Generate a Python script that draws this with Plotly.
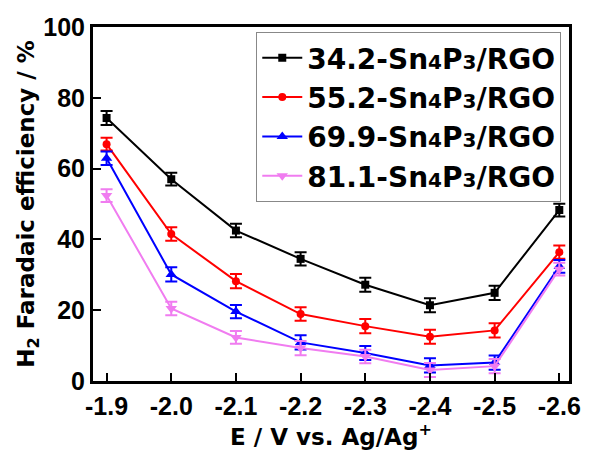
import plotly.graph_objects as go

potential = [-1.9, -2.0, -2.1, -2.2, -2.3, -2.4, -2.5, -2.6]
tick_labels = ["-1.9", "-2.0", "-2.1", "-2.2", "-2.3", "-2.4", "-2.5", "-2.6"]

names = ["34.2", "55.2", "69.9", "81.1"]
fe_342 = [74.3, 57.0, 42.5, 34.5, 27.2, 21.4, 24.9, 48.3]
fe_552 = [66.9, 41.5, 28.2, 18.9, 15.5, 12.5, 14.3, 36.4]
fe_699 = [62.9, 30.1, 19.6, 10.9, 7.9, 4.4, 5.2, 32.4]
fe_811 = [52.4, 20.5, 12.3, 9.3, 6.9, 3.1, 4.2, 31.6]
err_342 = [2.0, 1.8, 1.9, 1.9, 2.0, 2.0, 2.0, 1.8]
err_552 = [1.8, 1.9, 2.0, 1.9, 2.0, 2.0, 2.0, 1.9]
err_699 = [1.9, 2.0, 1.9, 2.0, 2.0, 2.0, 2.0, 1.8]
err_811 = [1.8, 1.9, 1.8, 2.0, 1.9, 2.0, 2.0, 1.8]

colors = ["#000000", "#FF0000", "#0000FF", "#F07CF0"]
symbols = ["square", "circle", "triangle-up", "triangle-down"]
msizes = [8, 8, 10, 10]

ARIAL = "Liberation Sans, Arial, sans-serif"
WIDE = "DejaVu Sans, Verdana, sans-serif"

fig = go.Figure()
for nm, ys, es, c, s, ms in zip(names, [fe_342, fe_552, fe_699, fe_811],
                                [err_342, err_552, err_699, err_811],
                                colors, symbols, msizes):
    label = (nm + '-Sn<span style="font-size:20px">4</span>P'
             '<span style="font-size:20px">3</span>/RGO')
    fig.add_trace(go.Scatter(
        x=potential, y=ys, name=label, mode="lines+markers",
        legendgroup=nm,
        line=dict(color=c, width=2),
        marker=dict(symbol=s, size=ms, color=c),
        error_y=dict(type="data", array=es, visible=True, color=c,
                     thickness=2, width=6),
    ))

fig.update_layout(
    width=593, height=457,
    margin=dict(l=93, r=16, t=27, b=76),
    paper_bgcolor="white", plot_bgcolor="white",
    font=dict(family=ARIAL, color="black", weight="bold"),
    showlegend=True,
    legend=dict(
        x=0.343, y=0.986, xanchor="left", yanchor="top",
        bgcolor="white", bordercolor="#888888", borderwidth=1,
        font=dict(size=28, family=WIDE, color="black", weight="bold"),
        tracegroupgap=0, itemwidth=40,
    ),
)

fig.update_xaxes(
    range=[-1.879, -2.615],
    tickmode="array", tickvals=potential, ticktext=tick_labels,
    ticks="inside", ticklen=8, tickwidth=2, tickcolor="black",
    showline=True, linecolor="black", linewidth=3, mirror=True,
    showgrid=False, zeroline=False, ticklabelstandoff=1,
    tickfont=dict(size=25, family=ARIAL, color="black", weight="bold"),
    title=dict(text="E / V vs. Ag/Ag<sup>+</sup>", standoff=6,
               font=dict(size=23, family=WIDE, color="black", weight="bold")),
)
fig.update_yaxes(
    range=[0, 100], tickvals=[0, 20, 40, 60, 80, 100],
    ticks="inside", ticklen=8, tickwidth=2, tickcolor="black",
    showline=True, linecolor="black", linewidth=3, mirror=True,
    showgrid=False, zeroline=False,
    tickfont=dict(size=25, family=ARIAL, color="black", weight="bold"),
    title=dict(text="H<sub>2</sub> Faradaic efficiency / %", standoff=2,
               font=dict(size=23, family=WIDE, color="black", weight="bold")),
)

fig.write_html("out.html",
               config={"displayModeBar": False},
               post_script="document.body.style.margin='0';")
